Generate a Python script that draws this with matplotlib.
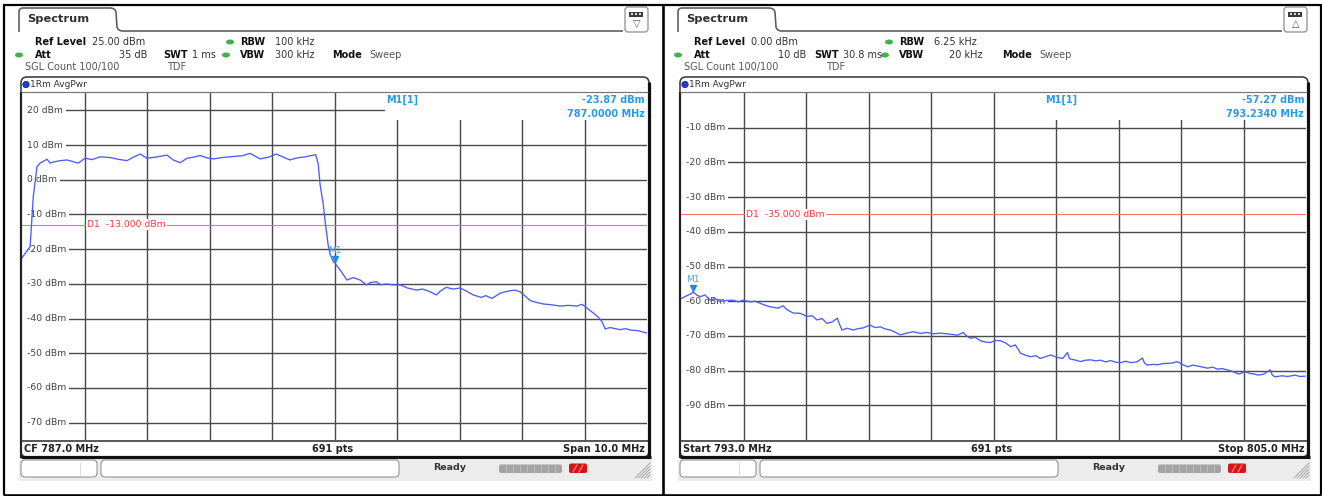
import matplotlib.pyplot as plt
from matplotlib.patches import FancyBboxPatch, Rectangle, Ellipse, Circle, PathPatch
from matplotlib.path import Path
from matplotlib.transforms import offset_copy

W, H = 1322, 496

# trace of screen 1 (CF 787 MHz, span 10 MHz)
freq_a = [782.00, 782.06, 782.13, 782.18, 782.24, 782.29, 782.40, 782.45, 782.50, 782.61,
          782.72, 782.80, 782.90, 783.01, 783.12, 783.25, 783.41, 783.54, 783.68, 783.78,
          783.89, 784.00, 784.13, 784.32, 784.42, 784.53, 784.64, 784.77, 784.85, 784.96,
          785.06, 785.20, 785.38, 785.52, 785.65, 785.73, 785.81, 785.94, 786.07, 786.17,
          786.29, 786.40, 786.53, 786.66, 786.70, 786.74, 786.77, 786.82, 786.85, 786.90,
          786.93, 786.98, 787.00, 787.09, 787.20, 787.30, 787.41, 787.51, 787.58, 787.67,
          787.74, 787.83, 787.93, 788.05, 788.17, 788.31, 788.41, 788.52, 788.63, 788.70,
          788.79, 788.89, 789.01, 789.10, 789.22, 789.35, 789.42, 789.52, 789.58, 789.65,
          789.73, 789.81, 789.89, 789.97, 790.05, 790.13, 790.24, 790.34, 790.46, 790.61,
          790.74, 790.88, 790.96, 791.04, 791.14, 791.22, 791.28, 791.33, 791.41, 791.46,
          791.57, 791.66, 791.73, 791.86, 792.00]
pwr_a = [-22.5, -21.0, -19.3, -4.9, 3.8, 4.8, 5.9, 4.8, 5.1, 5.5,
         5.7, 5.3, 4.8, 6.2, 5.8, 6.6, 6.4, 5.9, 5.5, 6.5,
         7.4, 6.2, 6.5, 7.1, 5.7, 4.9, 6.2, 6.6, 7.0, 6.3,
         6.0, 6.4, 6.7, 6.9, 7.6, 6.8, 6.0, 6.5, 7.4, 6.6,
         5.7, 6.3, 6.6, 7.1, 7.2, 4.5, -1.5, -7.0, -12.0, -19.0,
         -21.5, -23.6, -23.87, -26.0, -28.9, -28.2, -28.9, -30.3, -29.6, -29.4,
         -30.3, -30.0, -30.3, -30.3, -31.2, -31.8, -31.5, -32.2, -33.2, -32.0,
         -31.0, -31.5, -31.2, -32.0, -33.2, -33.9, -33.4, -34.2, -33.5, -32.7,
         -32.3, -32.0, -31.8, -32.3, -33.5, -34.8, -35.4, -35.8, -36.0, -36.4,
         -36.2, -36.4, -35.9, -37.0, -38.4, -39.6, -40.9, -43.0, -42.6, -42.8,
         -43.2, -42.9, -43.3, -43.5, -44.2]

# trace of screen 2 (793 - 805 MHz)
freq_b = [793.01, 793.10, 793.21, 793.23, 793.31, 793.37, 793.46, 793.56, 793.65, 793.75,
          793.87, 794.00, 794.10, 794.19, 794.33, 794.42, 794.52, 794.62, 794.71, 794.87,
          794.96, 795.03, 795.15, 795.29, 795.42, 795.52, 795.61, 795.71, 795.80, 795.90,
          796.00, 796.04, 796.09, 796.19, 796.31, 796.40, 796.50, 796.63, 796.73, 796.83,
          796.92, 797.02, 797.12, 797.21, 797.33, 797.46, 797.60, 797.72, 797.85, 797.98,
          798.17, 798.31, 798.42, 798.48, 798.56, 798.65, 798.75, 798.85, 798.94, 799.04,
          799.13, 799.23, 799.33, 799.42, 799.52, 799.62, 799.71, 799.81, 799.90, 800.00,
          800.10, 800.22, 800.33, 800.42, 800.46, 800.58, 800.67, 800.77, 800.87, 800.96,
          801.06, 801.15, 801.25, 801.35, 801.44, 801.54, 801.63, 801.75, 801.86, 801.90,
          801.95, 802.06, 802.15, 802.25, 802.34, 802.44, 802.53, 802.62, 802.73, 802.83,
          802.92, 803.02, 803.11, 803.21, 803.30, 803.38, 803.49, 803.58, 803.71, 803.83,
          803.92, 804.00, 804.09, 804.19, 804.31, 804.35, 804.40, 804.54, 804.65, 804.79,
          804.88, 804.98]
pwr_b = [-59.2, -58.5, -57.7, -57.27, -58.3, -58.7, -58.2, -59.7, -59.2, -60.1,
         -59.8, -59.7, -60.2, -59.7, -60.2, -60.0, -60.6, -61.2, -61.6, -62.0,
         -61.3, -62.4, -63.4, -63.5, -64.4, -64.2, -65.4, -65.0, -66.4, -66.0,
         -64.9, -66.5, -68.3, -67.8, -68.3, -67.9, -67.7, -66.9, -67.6, -67.4,
         -68.0, -68.3, -69.0, -69.7, -69.2, -68.8, -69.3, -69.0, -69.4, -69.2,
         -69.5, -69.8, -69.0, -70.0, -70.7, -70.4, -71.4, -71.8, -71.9, -71.3,
         -71.4, -72.0, -73.1, -72.6, -75.0, -75.6, -76.0, -75.7, -76.5, -76.0,
         -75.5, -76.2, -76.5, -74.8, -76.6, -77.0, -77.4, -77.0, -76.9, -77.2,
         -77.0, -77.5, -77.1, -77.6, -77.7, -77.3, -77.7, -77.5, -76.4, -77.8,
         -78.4, -78.2, -78.3, -78.0, -77.9, -77.8, -77.4, -78.2, -78.9, -78.4,
         -78.7, -79.0, -79.3, -79.0, -79.6, -79.4, -79.8, -80.2, -81.0, -80.3,
         -80.8, -81.0, -81.3, -81.0, -79.8, -81.2, -81.8, -81.5, -81.7, -81.3,
         -81.7, -81.6]

traces = [(freq_a, pwr_a), (freq_b, pwr_b)]

# instrument settings shown on each screen
ref_level = [25.0, 0.0]
ref_txt = ['25.00 dBm', '0.00 dBm']
att_txt = ['35 dB', '10 dB']
swt_txt = ['1 ms', '30.8 ms']
rbw_txt = ['100 kHz', '6.25 kHz']
vbw_txt = ['300 kHz', '20 kHz']
f_start = [782.0, 793.0]
f_stop = [792.0, 805.0]
d1_level = [-13.0, -35.0]
m1_freq = [787.0, 793.234]
m1_pwr = [-23.87, -57.27]
foot_left = ['CF 787.0 MHz', 'Start 793.0 MHz']
foot_right = ['Span 10.0 MHz', 'Stop 805.0 MHz']
icon_arrow = ['\u25bd', '\u25b3']

plt.rcParams['font.family'] = ['DejaVu Sans']

fig = plt.figure(figsize=(W / 100, H / 100), dpi=100)
fig.patch.set_facecolor('white')

fg = fig.add_axes([0, 0, 1, 1], zorder=10)
fg.patch.set_alpha(0)
fg.set_xlim(0, W)
fg.set_ylim(H, 0)
fg.axis('off')

PX = 0.72  # one pixel in points


def txt(x, y, s, size=7, weight='normal', color='#333333', ha='left', **kw):
    fg.text(x, y, s, fontsize=size, fontweight=weight, color=color, ha=ha, va='center', **kw)


def hline(x0, x1, y, lw=1, color='#333333'):
    fg.plot([x0, x1], [y, y], color=color, lw=lw * PX, solid_capstyle='butt')


def vline(x, y0, y1, lw=1, color='#333333'):
    fg.plot([x, x], [y0, y1], color=color, lw=lw * PX, solid_capstyle='butt')


grid_c = '#4a4a4a'
trace_c = '#4d5cf5'
mark_c = '#2a9be0'

layout_swt_x = [163, 155]
layout_vbw_x = [275, 290]
layout_mode_x = [332, 343]

for i, ox in enumerate([0, 659]):
    # ---- tab and header line
    verts = [(19, 32), (19, 12), (19, 8), (23, 8), (110, 8), (115, 8), (116, 12),
             (117, 27), (118, 31), (123, 31), (623, 31)]
    codes = [Path.MOVETO, Path.LINETO, Path.CURVE3, Path.CURVE3, Path.LINETO, Path.CURVE3,
             Path.CURVE3, Path.LINETO, Path.CURVE3, Path.CURVE3, Path.LINETO]
    verts = [(x + ox, y) for x, y in verts]
    fg.add_patch(PathPatch(Path(verts, codes), fc='none', ec='#5a5a5a', lw=1.6 * PX))
    txt(27 + ox, 19.5, 'Spectrum', size=8.2, weight='bold', color='#303030')

    fg.add_patch(FancyBboxPatch((625 + ox, 7), 23, 25, boxstyle='round,pad=0,rounding_size=3',
                                fc='white', ec='#8a8a8a', lw=1.2 * PX))
    fg.add_patch(Rectangle((629 + ox, 12), 14, 4.5, fc='#3a3a3a', ec='none'))
    for k in range(3):
        fg.add_patch(Rectangle((631 + ox + 4 * k, 13.3), 2, 2, fc='#dddddd', ec='none'))
    txt(636.5 + ox, 24, icon_arrow[i], size=7, color='#555555', ha='center')

    # ---- settings block
    txt(35 + ox, 42, 'Ref Level', weight='bold', color='#111111')
    txt(92 + ox, 42, ref_txt[i])
    fg.add_patch(Ellipse((230 + ox, 42), 8, 5, fc='#3fb24a', ec='none'))
    txt(240 + ox, 42, 'RBW', weight='bold', color='#111111')
    txt(275 + ox, 42, rbw_txt[i])

    fg.add_patch(Ellipse((19 + ox, 55), 8, 5, fc='#3fb24a', ec='none'))
    txt(35 + ox, 55, 'Att', weight='bold', color='#111111')
    txt(147 + ox, 55, att_txt[i], ha='right')
    txt(layout_swt_x[i] + ox, 55, 'SWT', weight='bold', color='#111111')
    txt(layout_swt_x[i] + 29 + ox, 55, swt_txt[i])
    fg.add_patch(Ellipse((226 + ox, 55), 8, 5, fc='#3fb24a', ec='none'))
    txt(240 + ox, 55, 'VBW', weight='bold', color='#111111')
    txt(layout_vbw_x[i] + ox, 55, vbw_txt[i])
    txt(layout_mode_x[i] + ox, 55, 'Mode', weight='bold', color='#111111')
    txt(layout_mode_x[i] + 37 + ox, 55, 'Sweep', color='#555555')

    txt(25 + ox, 67, 'SGL Count 100/100', color='#555555')
    txt(167 + ox, 67, 'TDF', color='#555555')

    # ---- diagram frame
    fg.add_patch(FancyBboxPatch((21 + ox, 77), 628, 380, boxstyle='round,pad=0,rounding_size=6',
                                fc='none', ec='#3a3a3a', lw=1.6 * PX))
    vline(649 + ox, 82, 458, lw=3.2, color='#111111')
    hline(21 + ox, 651 + ox, 456.5, lw=3.2, color='#111111')
    vline(21 + ox, 92, 458, lw=2.2, color='#222222')
    hline(21 + ox, 648 + ox, 92, lw=1.2, color='#777777')
    hline(21 + ox, 648 + ox, 441, lw=1.6, color='#333333')
    fg.add_patch(Circle((26 + ox, 84.5), 3.2, fc='#1d3fd8', ec='#0a1f80', lw=0.5))
    txt(30 + ox, 84.5, '1Rm AvgPwr', size=6.5, color='#333333')

    txt(24 + ox, 449, foot_left[i], weight='bold', color='#222222')
    txt(333 + ox, 449, '691 pts', weight='bold', color='#222222', ha='center')
    txt(645 + ox, 449, foot_right[i], weight='bold', color='#222222', ha='right')

    # ---- status bar
    fg.add_patch(Rectangle((19 + ox, 459.5), 633, 21, fc='#ececec', ec='none'))
    fg.add_patch(FancyBboxPatch((21 + ox, 460), 76, 17, boxstyle='round,pad=0,rounding_size=4',
                                fc='white', ec='#8c8c8c', lw=1 * PX))
    vline(80 + ox, 462, 475, lw=1, color='#dddddd')
    fg.add_patch(FancyBboxPatch((101 + ox, 460), 298, 17, boxstyle='round,pad=0,rounding_size=4',
                                fc='white', ec='#8c8c8c', lw=1 * PX))
    txt(433 + ox, 468, 'Ready', size=6.8, weight='bold', color='#333333')
    fg.add_patch(FancyBboxPatch((499 + ox, 464.5), 63, 8.5, boxstyle='round,pad=0,rounding_size=2',
                                fc='#a4a4a4', ec='none'))
    for k in range(1, 9):
        vline(499 + ox + 7 * k, 465, 473, lw=0.8, color='#c4c4c4')
    fg.add_patch(FancyBboxPatch((569 + ox, 463.5), 18, 9.5, boxstyle='round,pad=0,rounding_size=2',
                                fc='#d41515', ec='none'))
    fg.plot([573 + ox, 577 + ox], [472, 465], color='#ff9a9a', lw=1 * PX)
    fg.plot([579 + ox, 583 + ox], [472, 465], color='#ff9a9a', lw=1 * PX)
    for k in range(5):
        fg.plot([647 - 3 * k + ox, 650 + ox], [478, 475 - 3 * k], color='#9a9a9a', lw=0.8 * PX)

    # ---- trace diagram
    x0, x1, y0, y1 = 22 + ox, 647 + ox, 93, 440
    ax = fig.add_axes([x0 / W, 1 - y1 / H, (x1 - x0) / W, (y1 - y0) / H], zorder=5)
    lo, hi = f_start[i], f_stop[i]
    top = ref_level[i]
    ax.set_xlim(lo, hi)
    ax.set_ylim(top - 100, top)
    ax.set_xticks([])
    ax.set_yticks([])
    for s in ax.spines.values():
        s.set_visible(False)

    step = (hi - lo) / 10
    for k in range(1, 10):
        ax.axvline(lo + k * step, color=grid_c, lw=1.4 * PX, zorder=1)
    levels = [v for v in range(-100, 30, 10) if top - 100 < v < top]
    for v in levels:
        # grid line starts right of the level label
        ax.axhline(v, xmin=8 / 625, color=grid_c, lw=1.4 * PX, zorder=1)
        ax.text(5 / 625, v, f'{v} dBm', transform=ax.get_yaxis_transform(), fontsize=6.7,
                color='#444444', va='center', ha='left', zorder=3,
                bbox=dict(boxstyle='square,pad=0.3', fc='white', ec='none'))

    ax.axhline(d1_level[i], color='#ff7070', lw=1.1 * PX, zorder=4)
    ax.text(65 / 625, d1_level[i], f'D1  {d1_level[i]:.3f} dBm', transform=ax.get_yaxis_transform(),
            fontsize=6.7, color='#f03c3c', va='center', ha='left', zorder=4.5,
            bbox=dict(boxstyle='square,pad=0.12', fc='white', ec='none'))

    f, p = traces[i]
    ax.plot(f, p, color=trace_c, lw=0.95, zorder=5)

    up = offset_copy(ax.transData, fig=fig, x=0, y=3.5, units='dots')
    ax.plot([m1_freq[i]], [m1_pwr[i]], marker='v', ms=5, color='#1a8fd8', mec='#1a8fd8',
            transform=up, zorder=6, clip_on=False)
    ax.annotate('M1', (m1_freq[i], m1_pwr[i]), xytext=(0, 12), textcoords='offset pixels',
                ha='center', va='center', fontsize=6.5, color='#45a8e0', zorder=6,
                annotation_clip=False)

    # marker readout box
    fg.add_patch(Rectangle((385 + ox, 93), 262, 27, fc='white', ec='none'))
    txt(386 + ox, 100, 'M1[1]', size=7, weight='bold', color=mark_c)
    txt(645 + ox, 100, f'{m1_pwr[i]:.2f} dBm', size=7, weight='bold', color=mark_c, ha='right')
    txt(645 + ox, 114, f'{m1_freq[i]:.4f} MHz', size=7, weight='bold', color=mark_c, ha='right')

# outer border and divider
hline(3, 1321, 4.5, lw=2.2, color='black')
hline(3, 1321, 494.5, lw=2.6, color='black')
vline(4, 4, 495, lw=2.2, color='black')
vline(663, 4, 495, lw=2.6, color='black')
vline(1320.5, 4, 495, lw=2.2, color='black')

fig.savefig('out.png', dpi=100, facecolor='white')
